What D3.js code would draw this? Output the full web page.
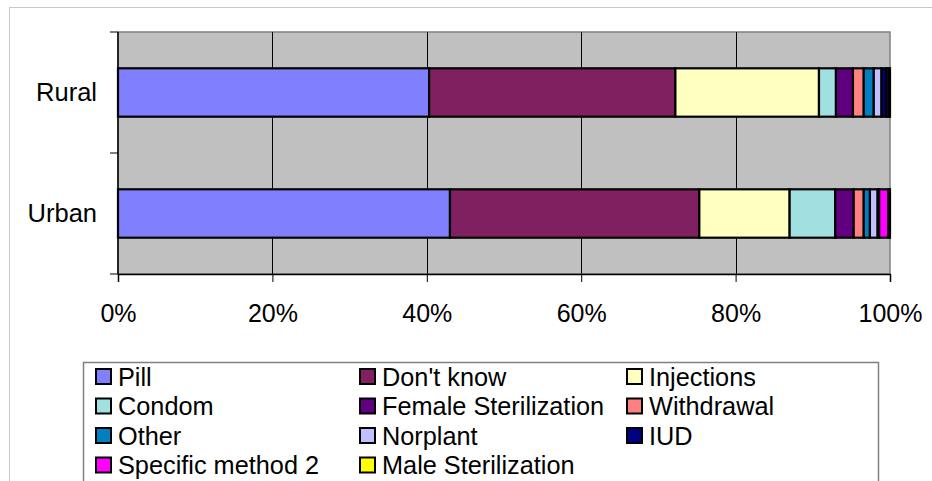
<!DOCTYPE html>
<html>
<head>
<meta charset="utf-8">
<script src="https://cdn.jsdelivr.net/npm/d3@7"></script>
<style>
  html, body { margin: 0; padding: 0; background: #fff; }
  svg { display: block; font-family: Arial, "Liberation Sans", sans-serif; }
</style>
</head>
<body>
<svg id="chart" width="932" height="481"></svg>
<script>
// Contraceptive method shares by residence (percent of users)
const categories = ["Rural", "Urban"];
const methods = ["Pill", "Don't know", "Injections", "Condom", "Female Sterilization",
  "Withdrawal", "Other", "Norplant", "IUD", "Specific method 2", "Male Sterilization"];
const ruralValues = [40.3, 31.9, 18.6, 2.2, 2.2, 1.4, 1.3, 1.0, 0.6, 0.3, 0.2];
const urbanValues = [43.0, 32.3, 11.7, 5.9, 2.4, 1.3, 0.8, 1.0, 0.2, 1.2, 0.2];
const methodColors = ["#8080FF", "#802060", "#FFFFC0", "#A0E0E0", "#600080",
  "#FF8080", "#0080C0", "#C0C0FF", "#000080", "#FF00FF", "#FFFF00"];
const tickValues = [0, 0.2, 0.4, 0.6, 0.8, 1];
const tickLabels = ["0%", "20%", "40%", "60%", "80%", "100%"];

const seriesByCategory = { Rural: ruralValues, Urban: urbanValues };
const rows = categories.map(c => {
  const row = { category: c };
  methods.forEach((m, i) => { row[m] = seriesByCategory[c][i]; });
  return row;
});

const svg = d3.select("#chart");
const plot = { left: 118, right: 890, top: 32, bottom: 274 };

// outer chart frame
svg.append("rect")
  .attr("x", 9.5).attr("y", 7.5).attr("width", 1000).attr("height", 1000)
  .attr("fill", "#fff").attr("stroke", "#c8c8c8").attr("stroke-width", 1);

const x = d3.scaleLinear().domain([0, 1]).range([plot.left, plot.right]);
const y = d3.scaleBand().domain(categories).range([plot.top, plot.bottom])
  .paddingInner(0.6).paddingOuter(0.3);
const color = d3.scaleOrdinal().domain(methods).range(methodColors);

// plot area
svg.append("rect")
  .attr("x", plot.left).attr("y", plot.top)
  .attr("width", plot.right - plot.left).attr("height", plot.bottom - plot.top)
  .attr("fill", "#C0C0C0").attr("stroke", "#808080").attr("stroke-width", 1.5);

// vertical gridlines
svg.append("g").selectAll("line")
  .data(tickValues.slice(1, -1))
  .join("line")
  .attr("x1", d => Math.round(x(d)) + 0.5).attr("x2", d => Math.round(x(d)) + 0.5)
  .attr("y1", plot.top).attr("y2", plot.bottom)
  .attr("stroke", "#000").attr("stroke-width", 1);

// stacked bars (100%)
const stack = d3.stack().keys(methods).offset(d3.stackOffsetExpand);
const series = stack(rows);

svg.append("g").selectAll("g")
  .data(series)
  .join("g")
  .attr("fill", d => color(d.key))
  .selectAll("rect")
  .data(d => d)
  .join("rect")
  .attr("x", d => x(d[0]))
  .attr("y", d => y(d.data.category))
  .attr("width", d => Math.max(0, x(d[1]) - x(d[0])))
  .attr("height", y.bandwidth())
  .attr("stroke", "#000")
  .attr("stroke-width", 2.2);

// x axis
const xAxis = d3.axisBottom(x)
  .tickValues(tickValues)
  .tickFormat((d, i) => tickLabels[i])
  .tickSize(8).tickPadding(22);
const gx = svg.append("g").attr("transform", `translate(0,${plot.bottom})`).call(xAxis);
gx.select(".domain").attr("stroke", "#000").attr("stroke-width", 1.5);
gx.selectAll(".tick line").attr("stroke", "#000");
gx.selectAll(".tick text").attr("font-size", 25).attr("fill", "#000")
  .attr("font-family", "Arial, 'Liberation Sans', sans-serif");

// y axis: ticks between categories
const yTickPos = [plot.top, (plot.top + plot.bottom) / 2, plot.bottom];
const gy = svg.append("g");
gy.append("line")
  .attr("x1", plot.left).attr("x2", plot.left)
  .attr("y1", plot.top).attr("y2", plot.bottom)
  .attr("stroke", "#000").attr("stroke-width", 1.5);
gy.selectAll("line.tick").data(yTickPos).join("line")
  .attr("class", "tick")
  .attr("x1", plot.left - 8).attr("x2", plot.left)
  .attr("y1", d => d).attr("y2", d => d)
  .attr("stroke", "#000").attr("stroke-width", 1);
gy.selectAll("text").data(categories).join("text")
  .attr("x", 97)
  .attr("y", d => y(d) + y.bandwidth() / 2 + 8.5)
  .attr("text-anchor", "end")
  .attr("font-size", 25.5)
  .text(d => d);

// legend
const legend = svg.append("g");
legend.append("rect")
  .attr("x", 83.5).attr("y", 362.5).attr("width", 795).attr("height", 200)
  .attr("fill", "#fff").attr("stroke", "#808080").attr("stroke-width", 1.5);

const colX = [95, 359, 626];
const rowY = [376.5, 406, 435.5, 465];
const items = legend.selectAll("g.item").data(methods).join("g")
  .attr("class", "item")
  .attr("transform", (d, i) => `translate(${colX[i % 3]},${rowY[Math.floor(i / 3)]})`);
items.append("rect")
  .attr("x", 1).attr("y", -7.5).attr("width", 15).attr("height", 15)
  .attr("fill", d => color(d)).attr("stroke", "#000").attr("stroke-width", 2);
items.append("text")
  .attr("x", 23).attr("y", 9)
  .attr("font-size", 25.3)
  .text(d => d);
</script>
</body>
</html>
